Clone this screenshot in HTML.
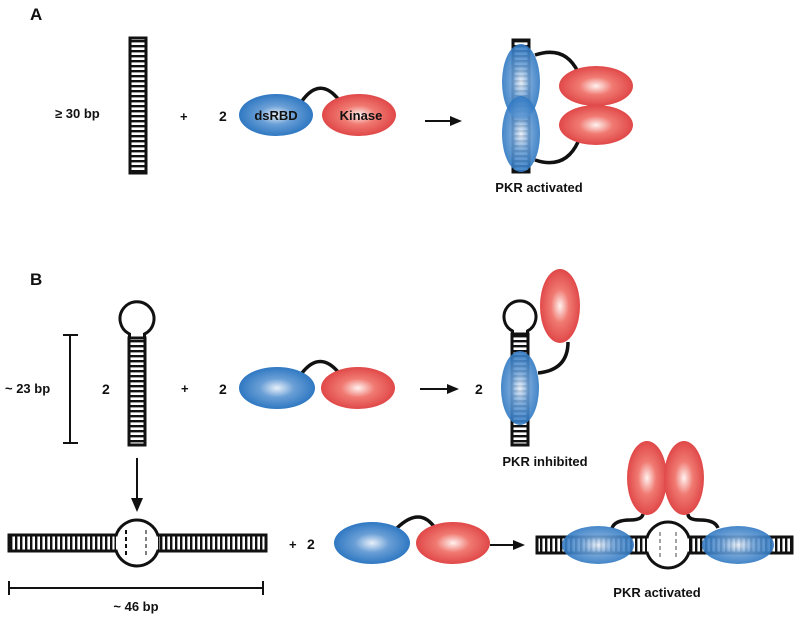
<!DOCTYPE html>
<html><head><meta charset="utf-8"><style>body{margin:0;background:#fff}svg{display:block}text{font-family:"Liberation Sans",sans-serif;font-weight:bold;fill:#111}</style></head><body>
<svg width="800" height="619" viewBox="0 0 800 619" xmlns="http://www.w3.org/2000/svg">
<defs>
<radialGradient id="b" cx="50%" cy="50%" r="50%"><stop offset="0" stop-color="#e8f0fa"/><stop offset="0.45" stop-color="#6a9fd6"/><stop offset="1" stop-color="#2f78c2"/></radialGradient>
<radialGradient id="r" cx="50%" cy="50%" r="50%"><stop offset="0" stop-color="#fff2ef"/><stop offset="0.45" stop-color="#f07a72"/><stop offset="1" stop-color="#e04848"/></radialGradient>
<pattern id="vl" width="20" height="5" patternUnits="userSpaceOnUse"><rect width="20" height="5" fill="#fff"/><rect y="0" width="20" height="2.4" fill="#111"/></pattern>
<pattern id="hl" width="5" height="20" patternUnits="userSpaceOnUse"><rect width="5" height="20" fill="#fff"/><rect x="0" width="2.4" height="20" fill="#111"/></pattern>
</defs>
<g stroke="#111" fill="none" stroke-width="3.5">
<!-- A -->
<rect x="130" y="38" width="16" height="135" fill="url(#vl)" stroke-width="3"/>
<path d="M302 101 Q320 76 339 100"/>
<line x1="425" y1="121" x2="455" y2="121" stroke-width="2"/>
<rect x="513" y="40" width="16" height="132" fill="url(#vl)" stroke-width="3"/>
<path d="M535 55 Q565 45 578 72"/><path d="M535 160 Q565 170 578 142"/>
<!-- B -->
<path d="M129.5 339 L129.5 334 A17 17 0 1 1 144.5 334 L144.5 339" stroke-width="3"/>
<rect x="129" y="338" width="16" height="107" fill="url(#vl)" stroke-width="3"/>
<line x1="70" y1="335" x2="70" y2="443" stroke-width="2"/><line x1="63" y1="335" x2="78" y2="335" stroke-width="2"/><line x1="63" y1="443" x2="78" y2="443" stroke-width="2"/>
<path d="M302 373 Q320 350 339 373"/>
<line x1="420" y1="389" x2="452" y2="389" stroke-width="2"/>
<line x1="137" y1="458" x2="137" y2="500" stroke-width="2"/>
<path d="M512.5 335 L512.5 331 A16 16 0 1 1 527.5 331 L527.5 335" stroke-width="3"/>
<rect x="512" y="334" width="16" height="111" fill="url(#vl)" stroke-width="3"/>
<path d="M538 373 Q568 370 568 342"/>
<!-- bulge row -->
<rect x="9" y="535" width="107" height="16" fill="url(#hl)" stroke-width="3"/>
<rect x="158" y="535" width="108" height="16" fill="url(#hl)" stroke-width="3"/>
<rect x="116" y="536.5" width="42" height="13" fill="#fff" stroke="none"/>
<path d="M116 535.5 A22 22 0 0 1 158 535.5" stroke-width="3"/>
<path d="M116 550.5 A22 22 0 0 0 158 550.5" stroke-width="3"/>
<line x1="126" y1="530" x2="126" y2="556" stroke-dasharray="4 3" stroke-width="2"/><line x1="146" y1="530" x2="146" y2="556" stroke-dasharray="4 3" stroke-width="1.5" stroke="#555"/>
<line x1="9" y1="588" x2="263" y2="588" stroke-width="2"/><line x1="9" y1="581" x2="9" y2="595" stroke-width="2"/><line x1="263" y1="581" x2="263" y2="595" stroke-width="2"/>
<path d="M397 528 Q420 506 435 528"/>
<line x1="490" y1="545" x2="518" y2="545" stroke-width="2"/>
<rect x="537" y="537" width="110" height="16" fill="url(#hl)" stroke-width="3"/>
<rect x="689" y="537" width="103" height="16" fill="url(#hl)" stroke-width="3"/>
<rect x="647" y="538.5" width="42" height="13" fill="#fff" stroke="none"/>
<path d="M647 537.5 A22 22 0 0 1 689 537.5" stroke-width="3"/>
<path d="M647 552.5 A22 22 0 0 0 689 552.5" stroke-width="3"/>
<line x1="660" y1="532" x2="660" y2="558" stroke-dasharray="4 3" stroke-width="1.2" stroke="#666"/><line x1="676" y1="532" x2="676" y2="558" stroke-dasharray="4 3" stroke-width="1.2" stroke="#666"/>
<path d="M612 528 Q615 520 630 520 Q642 520 643 514"/><path d="M718 528 Q715 520 700 520 Q688 520 688 514"/>
</g>
<polygon points="462,121 450,116 450,126" fill="#111"/>
<polygon points="459,389 447,384 447,394" fill="#111"/>
<polygon points="137,512 131,498 143,498" fill="#111"/>
<polygon points="525,545 513,540 513,550" fill="#111"/>
<!-- ellipses -->
<ellipse cx="276" cy="115" rx="37" ry="21" fill="url(#b)"/>
<ellipse cx="359" cy="115" rx="37" ry="21" fill="url(#r)"/>
<ellipse cx="521" cy="82" rx="19" ry="38" fill="url(#b)" opacity="0.9"/>
<ellipse cx="521" cy="134" rx="19" ry="38" fill="url(#b)" opacity="0.9"/>
<ellipse cx="596" cy="86" rx="37" ry="20" fill="url(#r)"/>
<ellipse cx="596" cy="125" rx="37" ry="20" fill="url(#r)"/>
<ellipse cx="277" cy="388" rx="38" ry="21" fill="url(#b)"/>
<ellipse cx="358" cy="388" rx="37" ry="21" fill="url(#r)"/>
<ellipse cx="520" cy="388" rx="19" ry="37" fill="url(#b)" opacity="0.9"/>
<ellipse cx="560" cy="306" rx="20" ry="37" fill="url(#r)"/>
<ellipse cx="372" cy="543" rx="38" ry="21" fill="url(#b)"/>
<ellipse cx="453" cy="543" rx="37" ry="21" fill="url(#r)"/>
<ellipse cx="598" cy="545" rx="36" ry="19" fill="url(#b)" opacity="0.9"/>
<ellipse cx="738" cy="545" rx="36" ry="19" fill="url(#b)" opacity="0.9"/>
<ellipse cx="647" cy="478" rx="20" ry="37" fill="url(#r)"/>
<ellipse cx="684" cy="478" rx="20" ry="37" fill="url(#r)"/>
<!-- text -->
<text x="30" y="20" font-size="17">A</text>
<text x="30" y="285" font-size="17">B</text>
<text x="55" y="118" font-size="13">≥ 30 bp</text>
<text x="180" y="121" font-size="13">+</text>
<text x="219" y="121" font-size="14">2</text>
<text x="276" y="120" font-size="13" text-anchor="middle">dsRBD</text>
<text x="361" y="120" font-size="13" text-anchor="middle">Kinase</text>
<text x="539" y="192" font-size="13" text-anchor="middle">PKR activated</text>
<text x="5" y="393" font-size="13">~ 23 bp</text>
<text x="102" y="394" font-size="14">2</text>
<text x="181" y="393" font-size="13">+</text>
<text x="219" y="394" font-size="14">2</text>
<text x="475" y="394" font-size="14">2</text>
<text x="545" y="466" font-size="13" text-anchor="middle">PKR inhibited</text>
<text x="289" y="549" font-size="13">+</text>
<text x="307" y="549" font-size="14">2</text>
<text x="136" y="611" font-size="13" text-anchor="middle">~ 46 bp</text>
<text x="657" y="597" font-size="13" text-anchor="middle">PKR activated</text>
</svg>
</body></html>
